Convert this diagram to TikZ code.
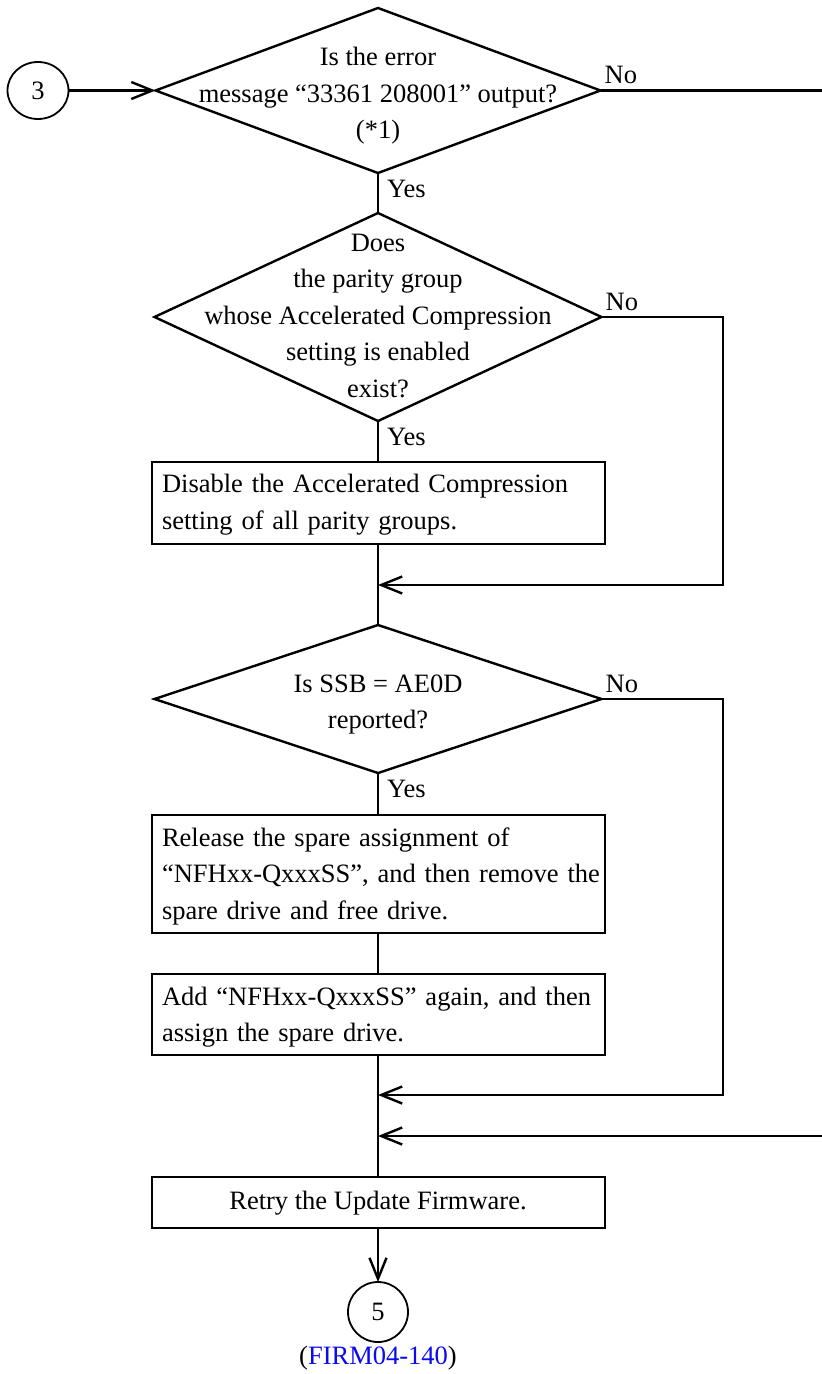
\documentclass[tikz,border=0pt]{standalone}
\usepackage{fontspec}
\setmainfont{Liberation Serif}
\usetikzlibrary{shapes.geometric,arrows.meta}
\definecolor{linkblue}{RGB}{10,10,240}
\begin{document}
\begin{tikzpicture}[x=1pt,y=-1pt,
  every node/.style={font=\fontsize{26.5}{36.5}\selectfont},
  flowline/.style={line width=2.4pt},
  flowarrow/.style={line width=2.4pt,-{Straight Barb[length=21pt,width=17pt,line width=2.4pt]}},
  decision/.style={diamond,draw,line width=2.4pt,inner sep=0pt,outer sep=0pt},
  qtext/.style={align=center,inner sep=0pt},
  steptext/.style={align=left,text width=445pt,inner sep=0pt},
  stepbox/.style={rectangle,draw,line width=2.4pt,minimum width=453pt,inner sep=0pt,outer sep=0pt},
  connector/.style={ellipse,draw,line width=1.8pt,inner sep=0pt,outer sep=0pt},
  branch/.style={inner sep=0pt,anchor=base west}
]
\useasboundingbox (0,0) rectangle (822,1374);

% off-page connector 3
\node[connector,minimum width=61pt,minimum height=57pt] (c3) at (38,90.5) {3};

% decision 1
\node[decision,minimum width=445pt,minimum height=165pt] (d1) at (378,90.5) {};
\node[qtext] (t1) at (378,94.7) {\strut Is the error\\\strut message “33361 208001” output?\\\strut (*1)};

% decision 2
\node[decision,minimum width=447pt,minimum height=208pt] (d2) at (378,317) {};
\node[qtext] (t2) at (378,316.7) {\strut Does\\\strut the parity group\\\strut whose Accelerated Compression\\\strut setting is enabled\\\strut exist?};

% step 1
\node[stepbox,minimum height=82pt] (b1) at (378.5,503) {};
\node[steptext] (s1) at (384.5,503.7) {\strut Disable the Accelerated Compression\\\strut setting of all parity groups.};

% decision 3
\node[decision,minimum width=447pt,minimum height=148pt] (d3) at (378,699) {};
\node[qtext] (t3) at (378,703.2) {\strut Is SSB = AE0D\\\strut reported?};

% steps 2 and 3
\node[stepbox,minimum height=118pt] (b2) at (378.5,874) {};
\node[steptext] (s2) at (384.5,875.2) {\strut Release the spare assignment of\\\strut “NFHxx-QxxxSS”, and then remove the\\\strut spare drive and free drive.};
\node[stepbox,minimum height=81pt] (b3) at (378.5,1014.5) {};
\node[steptext] (s3) at (384.5,1016.2) {\strut Add “NFHxx-QxxxSS” again, and then\\\strut assign the spare drive.};

% step 4
\node[stepbox,minimum height=51pt] (b4) at (378.5,1202.5) {};
\node[qtext] (s4) at (378,1201.7) {\strut Retry the Update Firmware.};

% off-page connector 5
\node[connector,minimum width=60pt,minimum height=60pt] (c5) at (378,1312) {5};
\node[inner sep=0pt] (ref) at (378,1358) {(\textcolor{linkblue}{FIRM04-140})};

% merge points on the main line and the page-edge ends of the long branch
\coordinate (m1) at (378,585);
\coordinate (m2) at (378,1095);
\coordinate (m3) at (378,1136);
\coordinate (exitR) at (822,90.5);
\coordinate (entryR) at (822,1136);

% main flow
\draw[flowarrow] (c3.east) -- (d1.west);
\draw[flowline] (d1.south) -- (d2.north);
\draw[flowline] (d2.south) -- (b1.north -| d2.south);
\draw[flowline] (b1.south -| d2.south) -- (d3.north);
\draw[flowline] (d3.south) -- (b2.north -| d3.south);
\draw[flowline] (b2.south -| d3.south) -- (b3.north -| d3.south);
\draw[flowline] (b3.south -| d3.south) -- (b4.north -| d3.south);
\draw[flowarrow] (b4.south -| c5.north) -- (c5.north);

% "No" branches
\draw[flowarrow] (d2.east) -- (723,317) |- (m1);
\draw[flowarrow] (d3.east) -- (723,699) |- (m2);
\draw[flowline] (d1.east) -- (exitR);
\draw[flowarrow] (entryR) -- (m3);

% branch labels
\node[branch] (no1) at ([xshift=4pt,yshift=7pt]d1.east) {No};
\node[branch] (no2) at ([xshift=4pt,yshift=7pt]d2.east) {No};
\node[branch] (no3) at ([xshift=4pt,yshift=7pt]d3.east) {No};
\node[branch] (yes1) at ([xshift=9pt,yshift=-24pt]d1.south) {Yes};
\node[branch] (yes2) at ([xshift=9pt,yshift=-24pt]d2.south) {Yes};
\node[branch] (yes3) at ([xshift=9pt,yshift=-24pt]d3.south) {Yes};
\end{tikzpicture}
\end{document}
